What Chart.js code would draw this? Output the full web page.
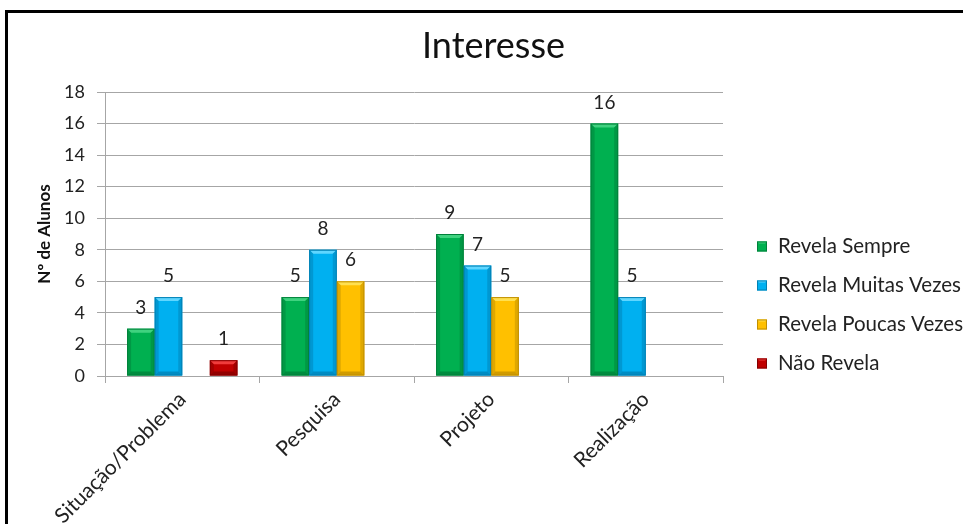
<!DOCTYPE html>
<html lang="pt">
<head>
<meta charset="utf-8">
<title>Interesse</title>
<script src="https://cdn.jsdelivr.net/npm/chart.js@4/dist/chart.umd.min.js"></script>
<style>
  html, body { margin: 0; padding: 0; background: #fff; overflow: hidden; }
  #frame {
    position: absolute; left: 5px; top: 10px;
    width: 1100px; height: 700px;
    border-left: 3px solid #000; border-top: 3px solid #000;
  }
  #chart { position: absolute; left: 0; top: 0; }
</style>
</head>
<body>
<div id="frame"><canvas id="chart" width="955" height="511"></canvas></div>
<script>
// Dados do gráfico
const categories = ['Situação/Problema', 'Pesquisa', 'Projeto', 'Realização'];
const seriesNames = ['Revela Sempre', 'Revela Muitas Vezes', 'Revela Poucas Vezes', 'Não Revela'];
const revelaSempre = [3, 5, 9, 16];
const revelaMuitasVezes = [5, 8, 7, 5];
const revelaPoucasVezes = [null, 6, 5, null];
const naoRevela = [1, null, null, null];
const yMin = 0;
const yMax = 18;
const yStep = 2;
const chartTitle = 'Interesse';

// Cores das séries: base, aresta clara (topo) e aresta escura
const seriesColors = [
    { fill: '#00b050', light: '#3fd27f', dark: '#00803a' },
    { fill: '#00b0f0', light: '#5fd6ff', dark: '#0080b4' },
    { fill: '#ffc000', light: '#ffe050', dark: '#c08f00' },
    { fill: '#c00000', light: '#f03c3c', dark: '#840000' }
];

const FONT = 'Lato, "Open Sans", sans-serif';

// Bevel effect on the bars plus the value written above each one
const barDecor = {
    id: 'barDecor',
    afterDatasetsDraw(chart) {
        const ctx = chart.ctx;
        ctx.save();
        chart.data.datasets.forEach((ds, i) => {
            const meta = chart.getDatasetMeta(i);
            const col = seriesColors[i];
            meta.data.forEach((bar, j) => {
                const v = ds.data[j];
                if (v === null || v === undefined) return;
                const p = bar.getProps(['x', 'y', 'base', 'width']);
                const l = p.x - p.width / 2, r = p.x + p.width / 2;
                const t = p.y, b = p.base;
                const e = Math.min(4, (b - t) / 3);

                // top light edge
                ctx.fillStyle = col.light;
                ctx.beginPath();
                ctx.moveTo(l, t); ctx.lineTo(r, t);
                ctx.lineTo(r - e, t + e); ctx.lineTo(l + e, t + e);
                ctx.closePath(); ctx.fill();

                // sides and bottom dark edges
                ctx.fillStyle = col.dark;
                ctx.globalAlpha = 0.5;
                ctx.beginPath();
                ctx.moveTo(l, t); ctx.lineTo(l + e, t + e);
                ctx.lineTo(l + e, b - e); ctx.lineTo(l, b);
                ctx.closePath(); ctx.fill();
                ctx.beginPath();
                ctx.moveTo(r, t); ctx.lineTo(r - e, t + e);
                ctx.lineTo(r - e, b - e); ctx.lineTo(r, b);
                ctx.closePath(); ctx.fill();
                ctx.globalAlpha = 0.75;
                ctx.beginPath();
                ctx.moveTo(l, b); ctx.lineTo(r, b);
                ctx.lineTo(r - e, b - e); ctx.lineTo(l + e, b - e);
                ctx.closePath(); ctx.fill();
                ctx.globalAlpha = 1;

                ctx.strokeStyle = col.dark;
                ctx.lineWidth = 1;
                ctx.strokeRect(l + 0.5, t + 0.5, p.width - 1, b - t - 1);

                // value label
                ctx.fillStyle = '#222';
                ctx.font = '19px ' + FONT;
                ctx.textAlign = 'center';
                ctx.textBaseline = 'middle';
                ctx.fillText(String(v), p.x, t - 21);
            });
        });
        ctx.restore();
    }
};

// Title centred on the whole canvas, legend on the right
const sideLegend = {
    id: 'sideLegend',
    afterDraw(chart, args, opts) {
        const ctx = chart.ctx;
        ctx.save();
        ctx.fillStyle = '#111';
        ctx.font = opts.titleSize + 'px ' + FONT;
        ctx.textAlign = 'center';
        ctx.textBaseline = 'middle';
        ctx.fillText(chartTitle, chart.width / 2 + opts.titleShift, opts.titleY);

        ctx.font = opts.fontSize + 'px ' + FONT;
        ctx.textAlign = 'left';
        chart.data.datasets.forEach((ds, i) => {
            const col = seriesColors[i];
            const cy = opts.top + i * opts.spacing;
            const s = opts.box;
            const bx = opts.left, by = cy - s / 2;
            ctx.fillStyle = col.fill;
            ctx.fillRect(bx, by, s, s);
            ctx.fillStyle = col.light;
            ctx.beginPath();
            ctx.moveTo(bx, by); ctx.lineTo(bx + s, by);
            ctx.lineTo(bx + s - 2, by + 2); ctx.lineTo(bx + 2, by + 2);
            ctx.closePath(); ctx.fill();
            ctx.strokeStyle = col.dark;
            ctx.lineWidth = 1;
            ctx.strokeRect(bx + 0.5, by + 0.5, s - 1, s - 1);
            ctx.fillStyle = '#222';
            ctx.fillText(ds.label, bx + s + 11, cy);
        });
        ctx.restore();
    }
};

const allSeries = [revelaSempre, revelaMuitasVezes, revelaPoucasVezes, naoRevela];

new Chart(document.getElementById('chart'), {
    type: 'bar',
    data: {
        labels: categories,
        datasets: allSeries.map((values, i) => ({
            label: seriesNames[i],
            data: values,
            backgroundColor: seriesColors[i].fill,
            borderWidth: 0,
            categoryPercentage: 0.714,
            barPercentage: 1
        }))
    },
    plugins: [barDecor, sideLegend],
    options: {
        responsive: false,
        animation: false,
        devicePixelRatio: 1,
        layout: { padding: { left: 0, right: 240, top: 79, bottom: 0 } },
        scales: {
            x: {
                grid: { drawOnChartArea: false, offset: true, tickLength: 7, color: '#a6a6a6' },
                border: { color: '#a6a6a6' },
                ticks: {
                    minRotation: 45, maxRotation: 45, padding: 4,
                    font: { family: FONT, size: 21 }, color: '#222'
                },
                afterFit: scale => { scale.height = 148; }
            },
            y: {
                min: yMin, max: yMax,
                ticks: {
                    stepSize: yStep, padding: 12,
                    font: { family: FONT, size: 18 }, color: '#222'
                },
                grid: { color: '#a6a6a6', tickLength: 8 },
                border: { color: '#a6a6a6' },
                title: {
                    display: true, text: 'Nº de Alunos', color: '#111',
                    font: { family: FONT, size: 17, weight: 'bold' },
                    padding: { top: 26, bottom: 0 }
                },
                afterFit: scale => { scale.width = 97; }
            }
        },
        plugins: {
            legend: { display: false },
            tooltip: { enabled: false },
            title: { display: false },
            sideLegend: {
                left: 749, top: 233.5, spacing: 39, box: 10, fontSize: 20.5,
                titleSize: 36, titleY: 33, titleShift: 8
            }
        }
    }
});
</script>
</body>
</html>
